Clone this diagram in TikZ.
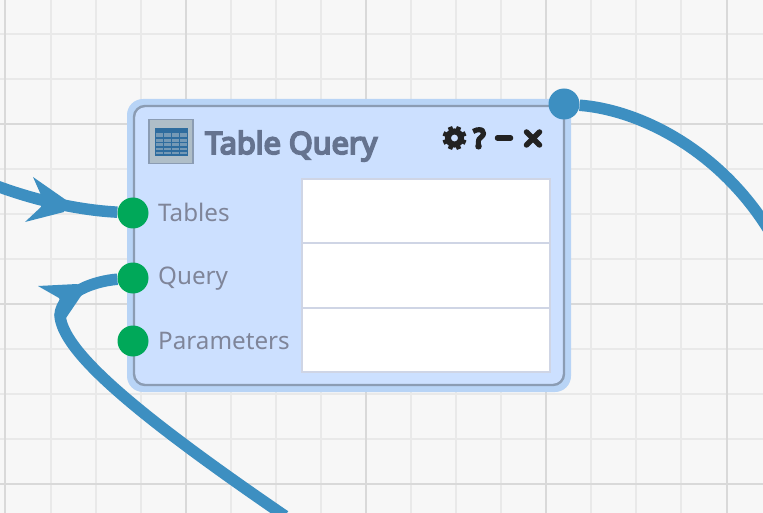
\documentclass[tikz,border=0pt]{standalone}
\usepackage{fontspec}
\setmainfont{Noto Sans}
\newfontfamily\heavyfont[FakeBold=6]{Noto Sans}
\newfontfamily\toolfont[FakeBold=12]{Noto Sans}
\usepackage{tikz}
\usetikzlibrary{arrows.meta, positioning, calc}

\definecolor{canvasbg}{HTML}{F7F7F7}
\definecolor{gridminor}{HTML}{E9E9E9}
\definecolor{gridmajor}{HTML}{D9D9D9}
\definecolor{halo}{HTML}{B8D4F6}
\definecolor{panel}{HTML}{CCE0FF}
\definecolor{panelline}{HTML}{8B9CB3}
\definecolor{cellline}{HTML}{CFD5E5}
\definecolor{wireblue}{HTML}{3D8FC1}
\definecolor{portgreen}{HTML}{00A859}
\definecolor{titlecol}{HTML}{65738F}
\definecolor{labelcol}{HTML}{7F8599}
\definecolor{toolcol}{HTML}{222222}
\definecolor{iconbg}{HTML}{AFBEC8}
\definecolor{iconline}{HTML}{2E6C9E}

\begin{document}
\begin{tikzpicture}[
    x=1pt, y=-1pt,
    minorline/.style={gridminor, line width=2pt},
    majorline/.style={gridmajor, line width=2pt},
    haloshape/.style={rectangle, fill=halo, rounded corners=16pt, minimum width=444pt, minimum height=293pt, inner sep=0pt},
    nodeshape/.style={rectangle, draw=panelline, line width=2.4pt, fill=panel, rounded corners=11pt, minimum width=430pt, minimum height=279pt, inner sep=0pt},
    cell/.style={rectangle, draw=cellline, line width=2pt, fill=white, minimum width=248pt, minimum height=64pt, inner sep=0pt},
    inport/.style={circle, fill=portgreen, minimum size=31pt, inner sep=0pt},
    outport/.style={circle, fill=wireblue, minimum size=31pt, inner sep=0pt},
    portlabel/.style={anchor=base west, inner sep=0pt, text=labelcol, font=\fontsize{24.2}{26}\selectfont},
    titlelabel/.style={anchor=base west, inner sep=0pt, text=titlecol, font=\fontsize{30.6}{32}\heavyfont},
    wire/.style={wireblue, line width=11.5pt},
    head/.style={fill=wireblue},
    tool/.style={toolcol, line width=5.5pt, line cap=round},
]
    % Canvas and grid
    \useasboundingbox (0,0) rectangle (763,513);
    \fill[canvasbg] (0,0) rectangle (763,513);
    \foreach \gx in {51,96,141,231,276,321,411,456,501,591,636,681}
        \draw[minorline] (\gx,0) -- (\gx,513);
    \foreach \gy in {34,79,169,214,259,349,394,439}
        \draw[minorline] (0,\gy) -- (763,\gy);
    \foreach \gx in {5,186,366,546,727}
        \draw[majorline] (\gx,0) -- (\gx,513);
    \foreach \gy in {124,304,484}
        \draw[majorline] (0,\gy) -- (763,\gy);

    % Panel
    \node[haloshape] (halo) at (349,245.5) {};
    \node[nodeshape] (query) at (349,245.5) {};

    % Input cells
    \node[cell] (ctables) at (426,211.5) {};
    \node[cell] (cquery)  at (426,275.5) {};
    \node[cell] (cparams) at (426,339.5) {};

    % Icon
    \node[rectangle, draw=panelline, line width=1.2pt, fill=iconbg, minimum width=44pt, minimum height=44pt, inner sep=0pt] (icon) at (171,141.5) {};
    \fill[iconline!45!iconbg] (155,128) rectangle (188,155);
    \draw[iconline, line width=1.6pt] (155.5,128.5) rectangle (187.5,155);
    \fill[iconline] (155.5,128.5) rectangle (187.5,133);
    \foreach \ty in {138,142.5,147,151}
        \draw[iconline, line width=1.2pt] (155.5,\ty) -- (187.5,\ty);
    \foreach \tx in {163.5,171.5,179.5}
        \draw[iconline, line width=1.2pt] (\tx,133) -- (\tx,155);

    % Title and labels
    \node[titlelabel] (title) at (205,154) {Table Query};
    \node[portlabel] (ltables) at (158,221.5) {Tables};
    \node[portlabel] (lquery)  at (158,284.5) {Query};
    \node[portlabel] (lparams) at (158,349) {Parameters};

    % Toolbar
    \coordinate (gear) at (454.5,138);
    \draw[toolcol, line width=6pt] (gear) circle (6.5pt);
    \foreach \ang in {22.5,67.5,...,337.5}
        \draw[toolcol, line width=4.6pt] ($(gear)+(\ang:8pt)$) -- ($(gear)+(\ang:12pt)$);
    \node[inner sep=0pt, anchor=base, text=toolcol, font=\fontsize{26}{26}\toolfont] (help) at (479.5,147.5) {?};
    \draw[tool] (497.5,138) -- (510.5,138);
    \draw[tool] (526.5,132) -- (539.5,145);
    \draw[tool] (539.5,132) -- (526.5,145);

    % Free ends of the wires
    \coordinate (wtables) at (-6,185);
    \coordinate (wquery) at (285,516);
    \coordinate (wout) at (770,232);

    % Ports
    \node[inport] (ptables) at (133,213) {};
    \node[inport] (pquery)  at (133,278) {};
    \node[inport] (pparams) at (133,341) {};
    \node[outport] (pout)   at (564,104) {};

    % Wires
    \draw[wire] (ptables) .. controls (95,211) and (50,206) .. (wtables);
    \draw[wire] (pquery) .. controls (95,281) and (62,292) .. (60,315)
        .. controls (62,350) and (130,410) .. (wquery);
    \draw[wire] (pout) .. controls (640,110) and (720,150) .. (wout);

    % Arrowheads
    \fill[head] (33,177) -- (66,200) -- (64,212) -- (25,222) -- (41,207) -- (41,195) -- cycle;
    \fill[head] (38,286) -- (77,284) -- (85,290) -- (66,318) -- (59,298) -- cycle;
\end{tikzpicture}
\end{document}
